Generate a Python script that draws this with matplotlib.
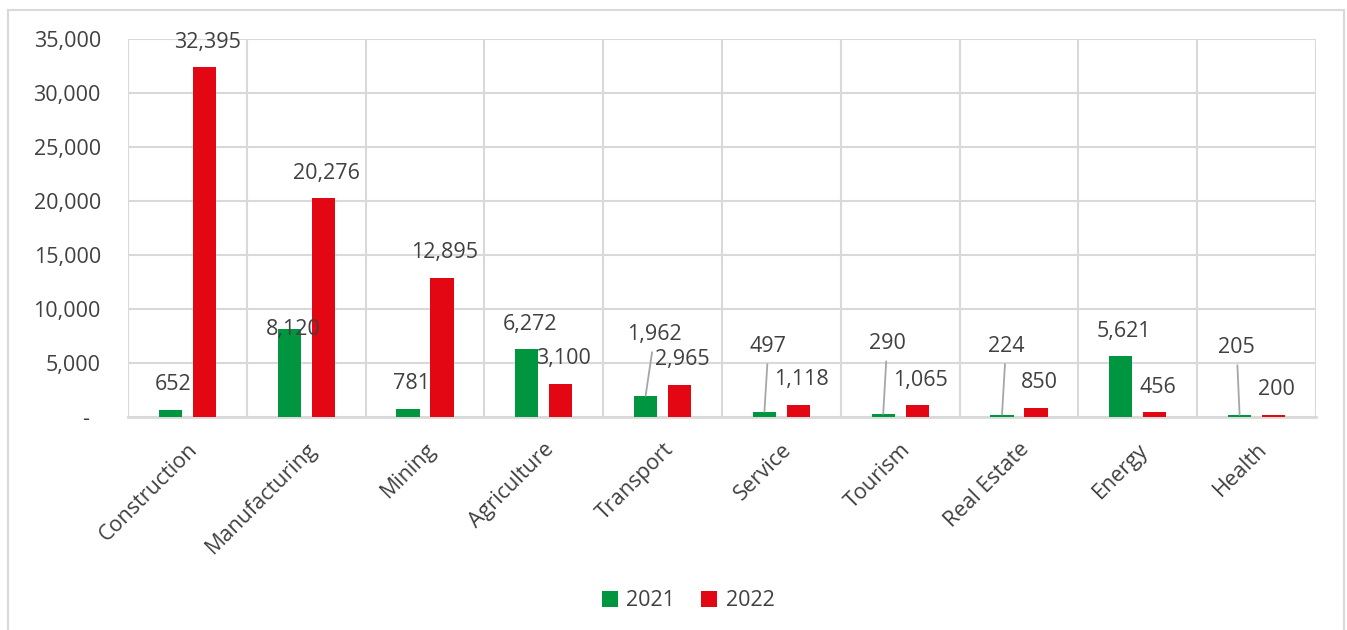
import matplotlib
matplotlib.use("Agg")
import matplotlib.pyplot as plt
import numpy as np
from matplotlib.patches import Rectangle
from matplotlib.ticker import FuncFormatter, FixedLocator

sectors = ["Construction", "Manufacturing", "Mining", "Agriculture", "Transport",
           "Service", "Tourism", "Real Estate", "Energy", "Health"]
years = ["2021", "2022"]
values_2021 = [652, 8120, 781, 6272, 1962, 497, 290, 224, 5621, 205]
values_2022 = [32395, 20276, 12895, 3100, 2965, 1118, 1065, 850, 456, 200]

GREEN = "#00953f"
RED = "#e30613"
GRID = "#d9d9d9"
TEXT = "#404040"
FONT = "Open Sans"
FS = 15.5

plt.rcParams["font.family"] = FONT

fig = plt.figure(figsize=(13.47, 6.3), dpi=100)
ax = fig.add_axes([128 / 1347, 1 - 417 / 630, (1316 - 128) / 1347, (417 - 39) / 630])

# light frame around the chart area
fig.patches.append(Rectangle((8 / 1347, -0.05), (1344 - 8) / 1347, 1.05 - 10 / 630,
                             transform=fig.transFigure, fill=False,
                             edgecolor=GRID, lw=1.5))

x = np.arange(len(sectors))
width = 0.195
shift = 0.143
bars_a = ax.bar(x - shift, values_2021, width, color=GREEN, label=years[0], zorder=3)
bars_b = ax.bar(x + shift, values_2022, width, color=RED, label=years[1], zorder=3)

# labels that had to be moved off their bars; those with leader lines are flagged
nudged = {
    (0, 1): (4, 0, False),
    (0, 4): (9, 61, True),
    (0, 5): (4, 65, True),
    (0, 6): (4, 70, True),
    (0, 7): (4, 68, True),
    (0, 9): (-3, 67, True),
}

for s, (xs, vals) in enumerate([(x - shift, values_2021), (x + shift, values_2022)]):
    for i, (xi, v) in enumerate(zip(xs, vals)):
        dx, dy, leader = nudged.get((s, i), (3, 25, False))
        kw = {}
        if leader:
            kw["arrowprops"] = dict(arrowstyle="-", color="#a6a6a6", lw=1.3,
                                    shrinkA=3, shrinkB=0)
        ax.annotate(f"{v:,}", xy=(xi, v), xytext=(dx, dy), textcoords="offset pixels",
                    ha="center", va="center", fontsize=FS, color=TEXT, zorder=4, **kw)

ax.set_xlim(-0.5, len(sectors) - 0.5)
ax.set_ylim(0, 35000)
ax.set_yticks(np.arange(0, 35001, 5000))
ax.yaxis.set_major_formatter(FuncFormatter(lambda v, _: "-  " if v == 0 else f"{v:,.0f}"))

ax.set_xticks(x)
ax.set_xticklabels(sectors, rotation=45, ha="right", rotation_mode="anchor")
ax.xaxis.set_minor_locator(FixedLocator(np.arange(-0.5, len(sectors), 1.0)))

ax.tick_params(axis="both", which="both", length=0, labelsize=FS, labelcolor=TEXT)
ax.tick_params(axis="y", pad=19.5)
ax.tick_params(axis="x", pad=16)

ax.grid(axis="y", which="major", color=GRID, lw=1.5, zorder=0)
ax.grid(axis="x", which="minor", color=GRID, lw=1.5, zorder=0)
ax.grid(axis="x", which="major", visible=False)
ax.set_axisbelow(True)

for side in ["top", "left", "right"]:
    ax.spines[side].set_visible(False)
ax.spines["bottom"].set_color(GRID)
ax.spines["bottom"].set_linewidth(2)

fig.legend(handles=[bars_a, bars_b], labels=years, loc="center",
           bbox_to_anchor=(688 / 1347, 1 - 601 / 630), ncol=2, frameon=False,
           fontsize=FS, labelcolor=TEXT, handlelength=0.75, handleheight=0.75,
           handletextpad=0.4, columnspacing=1.2)

fig.savefig("out.png", dpi=100, facecolor="white")
